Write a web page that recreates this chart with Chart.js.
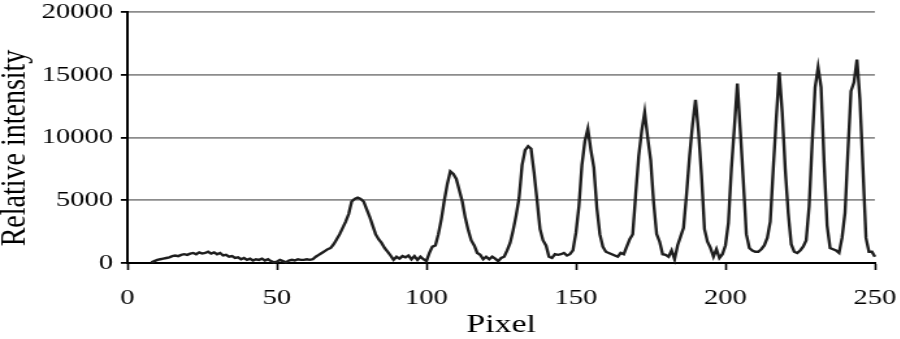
<!DOCTYPE html>
<html>
<head>
<meta charset="utf-8">
<script src="https://cdn.jsdelivr.net/npm/chart.js@4/dist/chart.umd.min.js"></script>
<style>
  html, body { margin: 0; padding: 0; background: #fff; overflow: hidden; }
  /* the source figure is stretched sideways, so draw narrow and stretch */
  #wrap { width: 692px; height: 339px; transform: scaleX(1.3); transform-origin: 0 0; }
</style>
</head>
<body>
<div id="wrap"><canvas id="profile" width="692" height="339"></canvas></div>
<script>
// intensity, one sample per pixel starting at pixel 8
const firstPixel = 8;
const intensity = [
  50, 150, 250, 300, 350, 400, 450, 550, 600, 550, 650, 700, 650, 750, 800, 700, 850, 750, 800, 900,
  750, 850, 700, 800, 600, 650, 500, 550, 400, 450, 300, 400, 250, 350, 200, 300, 250, 350, 200, 300,
  150, 50, 100, 250, 150, 50, 200, 250, 200, 300, 250, 250, 300, 250, 300, 500, 650, 800, 950, 1100,
  1200, 1500, 1900, 2300, 2800, 3300, 3900, 4900, 5100, 5200, 5100, 4900, 4300, 3700, 3000, 2300, 1900, 1600, 1200, 900,
  600, 250, 500, 350, 550, 450, 600, 300, 550, 250, 500, 300, 150, 800, 1300, 1400, 2300, 3500, 5000, 6300,
  7300, 7100, 6700, 5800, 4900, 3600, 2600, 1800, 1400, 800, 650, 300, 500, 300, 500, 350, 150, 400, 500, 1000,
  1600, 2600, 3800, 5200, 7800, 9000, 9300, 9100, 7200, 5000, 2700, 1800, 1400, 500, 400, 700, 650, 700, 800, 600,
  700, 1000, 2400, 4500, 7800, 9700, 10700, 9000, 7600, 4400, 2300, 1300, 900, 800, 700, 600, 500, 800, 700, 1300,
  1900, 2300, 5500, 8500, 10500, 12000, 10000, 8200, 4800, 2300, 1700, 700, 650, 500, 1000, 300, 1400, 2100, 2800, 5500,
  8500, 11000, 13000, 10500, 7000, 2700, 1700, 1200, 500, 1100, 400, 700, 1400, 3200, 7500, 10800, 14300, 10500, 6500, 2300,
  1200, 1000, 900, 900, 1100, 1400, 2000, 3300, 7500, 11500, 15200, 12000, 7500, 4000, 1500, 900, 800, 1000, 1300, 1800,
  4500, 9500, 14000, 15600, 14000, 8000, 3000, 1200, 1100, 1000, 800, 2000, 4000, 9000, 13700, 14400, 16200, 13000, 7500, 2000,
  900, 900, 500
];
const pixels = intensity.map((v, i) => firstPixel + i);

const xTicks = [0, 50, 100, 150, 200, 250];
const yTicks = [0, 5000, 10000, 15000, 20000];

const serif = "'Liberation Serif'";

function drawProfile() {
  new Chart(document.getElementById("profile"), {
    type: "line",
    data: {
      datasets: [
        {
          data: pixels.map((p, i) => ({ x: p, y: intensity[i] })),
          borderColor: "#1e1e1e",
          borderWidth: 2.4,
          pointRadius: 0,
          tension: 0,
          fill: false,
          clip: 8,
        },
      ],
    },
    options: {
      responsive: false,
      animation: false,
      devicePixelRatio: 1,
      layout: { padding: { left: -2, right: 0, top: 0, bottom: 0 } },
      plugins: { legend: { display: false }, tooltip: { enabled: false } },
      scales: {
        x: {
          type: "linear",
          min: 0,
          max: 250,
          afterBuildTicks: (axis) => { axis.ticks = xTicks.map((v) => ({ value: v })); },
          afterFit: (axis) => {
            axis.height = 76;
            axis.paddingRight = 19;
          },
          grid: { drawOnChartArea: false, drawTicks: true, tickLength: 7, tickColor: "#000", tickWidth: 1.6 },
          border: { color: "#000", width: 2 },
          ticks: { color: "#000", font: { family: serif, size: 22 }, padding: 15, maxRotation: 0, callback: (v) => String(v) },
          title: { display: true, text: "Pixel", color: "#000", font: { family: serif, size: 26, lineHeight: 1.08 }, padding: { top: 0, bottom: 0 } },
        },
        y: {
          min: 0,
          max: 20000,
          afterBuildTicks: (axis) => { axis.ticks = yTicks.map((v) => ({ value: v })); },
          afterFit: (axis) => { axis.paddingTop = 12; },
          grid: {
            color: (ctx) => (ctx.tick && ctx.tick.value === 0 ? "#000" : "#8c8c8c"),
            lineWidth: 1.8,
            drawTicks: true,
            tickLength: 5,
            tickColor: "#000",
          },
          border: { color: "#000", width: 2 },
          ticks: { color: "#000", font: { family: serif, size: 22, lineHeight: 1 }, padding: 6, callback: (v) => String(v) },
          title: {
            display: true,
            text: "Relative intensity\u00a0\u00a0\u00a0",
            color: "#000",
            font: { family: serif, size: 28, lineHeight: 1 },
            padding: { top: 0, bottom: 0 },
          },
        },
      },
    },
  });
}

Promise.all([
  document.fonts.load("22px 'Liberation Serif'"),
  document.fonts.load("28px 'Liberation Serif'"),
]).then(drawProfile, drawProfile);
</script>
</body>
</html>
